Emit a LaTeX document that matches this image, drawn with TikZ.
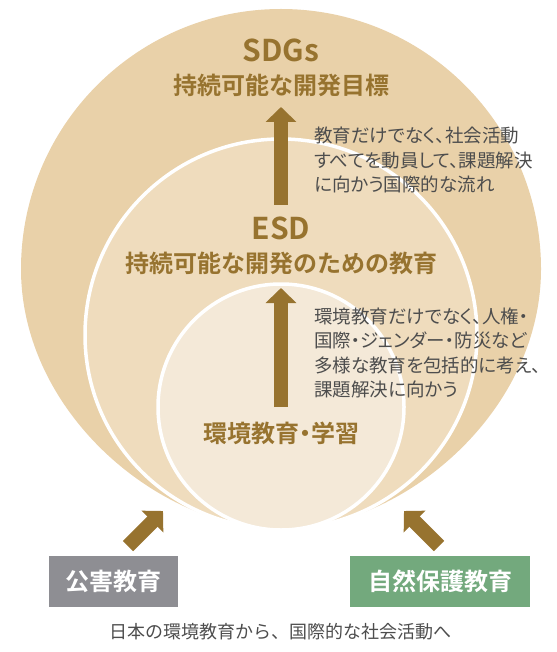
\documentclass[tikz,border=0pt]{standalone}
\usepackage{fontspec}
\usetikzlibrary{arrows.meta}
\newfontfamily\jp{Noto Sans CJK JP}[BoldFont={Noto Sans CJK JP Bold}]
\newfontfamily\jpp{Noto Sans CJK JP}[RawFeature=+palt]
\newfontfamily\jph{Noto Sans CJK JP}[BoldFont={Noto Sans CJK JP Bold},RawFeature=+halt]
\definecolor{outerc}{HTML}{E9D1A9}
\definecolor{midc}{HTML}{EFDCBD}
\definecolor{innerc}{HTML}{F4E9D8}
\definecolor{brownc}{HTML}{97732F}
\definecolor{notec}{HTML}{4D4D4D}
\definecolor{grayc}{HTML}{8E8E93}
\definecolor{greenc}{HTML}{73A97D}
\begin{document}
\begin{tikzpicture}[x=1pt,y=-1pt,
  bigtitle/.style={font=\jp\bfseries\fontsize{30}{32}\selectfont, text=brownc, inner sep=0pt},
  subtitle/.style={font=\jph\bfseries\fontsize{24}{28}\selectfont, text=brownc, inner sep=0pt},
  note/.style={font=\jpp\fontsize{18.5}{24.5}\selectfont, text=notec, align=left, inner sep=0pt, anchor=west},
  boxlabel/.style={font=\jp\bfseries\fontsize{24}{28}\selectfont, text=white, inner sep=0pt, minimum height=51pt},
  bigarrow/.style={draw=brownc, line width=14.5pt, -{Triangle[width=30pt,length=15pt]}},
  sep/.style={draw=white, line width=3.5pt}
]
\useasboundingbox (0,0) rectangle (556,652);
% outer shape
\path[fill=outerc] (281,529) .. controls (160,529) and (21,413) .. (21,269)
  arc[start angle=180, end angle=0, radius=260pt]
  .. controls (541,413) and (402,529) .. (281,529) -- cycle;
% middle shape
\path[fill=midc, sep] (281,529) .. controls (173,529) and (85,443) .. (85,335)
  arc[start angle=180, end angle=0, radius=196pt]
  .. controls (477,443) and (389,529) .. (281,529) -- cycle;
% inner shape
\path[fill=innerc, sep] (281,407) circle[radius=123pt];

% titles
\node[bigtitle] (sdgs) at (281,50) {SDGs};
\node[subtitle] (sdgssub) at (281,85) {持続可能な開発目標};
\node[bigtitle] (esd) at (281,228) {ESD};
\node[subtitle] (esdsub) at (281,263) {持続可能な開発のための教育};
\node[subtitle] (env) at (281,433) {環境教育・学習};

% notes
\node[note] (note1) at (314,160) {教育だけでなく、社会活動\\すべてを動員して、課題解決\\に向かう国際的な流れ};
\node[note] (note2) at (314,353) {環境教育だけでなく、人権・\\国際・ジェンダー・防災など\\多様な教育を包括的に考え、\\課題解決に向かう};

% vertical arrows
\coordinate (a1s) at (281,205);
\coordinate (a1e) at (281,107);
\coordinate (a2s) at (281,407);
\coordinate (a2e) at (281,288);
\draw[bigarrow] (a1s) -- (a1e);
\draw[bigarrow] (a2s) -- (a2e);

% boxes
\path[fill=grayc] (49,556) rectangle (178,607);
\node[boxlabel] (kogai) at (113.5,581.5) {公害教育};
\path[fill=greenc] (350,556) rectangle (530,607);
\node[boxlabel] (shizen) at (440,581.5) {自然保護教育};

% diagonal arrows
\coordinate (d1s) at (128,546);
\coordinate (d1e) at (163,511);
\coordinate (d2s) at (439,546);
\coordinate (d2e) at (404,511);
\draw[bigarrow] (d1s) -- (d1e);
\draw[bigarrow] (d2s) -- (d2e);

% caption
\node[font=\jp\fontsize{18}{20}\selectfont, text=notec, inner sep=0pt] (caption) at (280,632) {日本の環境教育から、国際的な社会活動へ};
\end{tikzpicture}
\end{document}
